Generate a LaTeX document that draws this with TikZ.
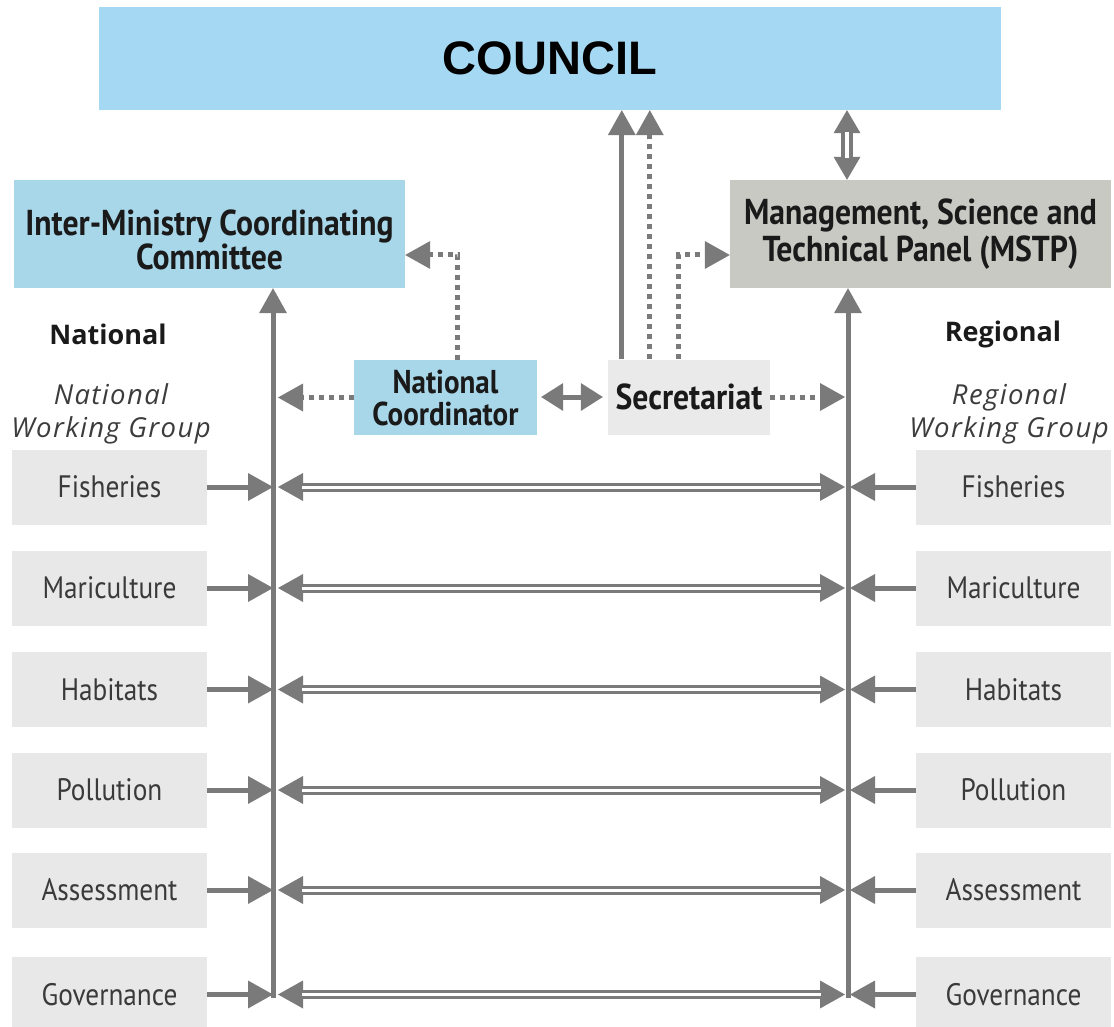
\documentclass[tikz,border=0pt]{standalone}
\usepackage{fontspec}
\setmainfont{PT Sans}[FakeStretch=0.88]
\newfontfamily\councilfont{Liberation Sans}
\newfontfamily\headfont{Open Sans}
\newfontfamily\wgfont{Open Sans}[LetterSpace=5]
\usetikzlibrary{arrows.meta}
\definecolor{councilblue}{HTML}{A5D8F2}
\definecolor{paleblue}{HTML}{A8D7EA}
\definecolor{panelgray}{HTML}{C9C9C4}
\definecolor{boxgray}{HTML}{E8E8E8}
\definecolor{secgray}{HTML}{EAEAEA}
\definecolor{agray}{HTML}{7A7A7A}
\definecolor{darktext}{HTML}{1A1A1A}
\definecolor{softtext}{HTML}{3A3A3A}
\tikzset{
  box/.style={rectangle, inner sep=0pt, anchor=center, align=center},
  wgbox/.style={box, fill=boxgray, minimum width=195pt, minimum height=75pt,
    text=softtext, font=\fontsize{31}{36}\selectfont},
  headbox/.style={box, text=darktext, font=\bfseries\fontsize{36}{37}\selectfont},
  colhead/.style={box, text=darktext, font=\headfont\bfseries\fontsize{27}{30}\selectfont},
  colsub/.style={box, text=darktext!85, font=\wgfont\itshape\fontsize{27.5}{33}\selectfont},
  gl/.style={draw=agray, line width=5pt},
  dotl/.style={draw=agray, line width=5pt, dash pattern=on 5pt off 5pt},
  tipend/.style={-{Triangle[length=25pt,width=28pt,line width=0pt]}},
  tipboth/.style={{Triangle[length=25pt,width=28pt,line width=0pt]}-{Triangle[length=25pt,width=28pt,line width=0pt]}},
  smallboth/.style={{Triangle[length=22pt,width=28pt,line width=0pt]}-{Triangle[length=22pt,width=28pt,line width=0pt]}},
  dbl/.style={draw=agray, line width=9pt, tipboth},
  dblinner/.style={draw=white, line width=3pt},
}
\begin{document}
\begin{tikzpicture}[x=1pt, y=-1pt]
\useasboundingbox (0,0) rectangle (1114,1027);
\clip (0,0) rectangle (1114,1027);

% top level and panels
\node[box, fill=councilblue, minimum width=902pt, minimum height=103pt,
  font=\councilfont\bfseries\fontsize{47}{50}\selectfont] (council) at (550,58.5) {COUNCIL};
\node[headbox, fill=paleblue, minimum width=391pt, minimum height=108pt,
  font=\bfseries\fontsize{36}{34}\selectfont] (imcc) at (209.5,234)
  {\rule{0pt}{38pt}Inter-Ministry Coordinating\\Committee};
\node[headbox, fill=panelgray, minimum width=381pt, minimum height=108pt] (mstp) at (920.5,234)
  {Management, Science and\\Technical Panel (MSTP)};
\node[headbox, fill=paleblue, minimum width=183pt, minimum height=75pt,
  font=\bfseries\fontsize{33}{32}\selectfont] (nc) at (445.5,397.5) {National\\Coordinator};
\node[headbox, fill=secgray, minimum width=162pt, minimum height=75pt] (sec) at (689,397) {Secretariat};

% column headings
\node[colhead] (nat) at (108,334) {National};
\node[colhead] (reg) at (1003,334) {Regional};
\node[colsub] (natwg) at (111,414) {National\\Working Group};
\node[colsub] (regwg) at (1009,414) {Regional\\Working Group};

% working group boxes
\foreach \i/\y/\t in {1/487/Fisheries, 2/588/Mariculture, 3/689.5/Habitats,
                      4/790/Pollution, 5/890/Assessment, 6/994.5/Governance} {
  \node[wgbox] (wl\i) at (109.5,\y) {\t};
  \node[wgbox] (wr\i) at (1013.5,\y) {\t};
}

% vertical spines
\coordinate (lb) at (273,998);
\coordinate (rb) at (848,998);
\draw[gl, tipend] (lb) -- (lb |- imcc.south);
\draw[gl, tipend] (rb) -- (rb |- mstp.south);

% row connectors
\foreach \i in {1,...,6} {
  \draw[gl, tipend] (wl\i.east) -- (lb |- wl\i.east);
  \draw[gl, tipend] (wr\i.west) -- ([xshift=2pt]rb |- wr\i.west);
  \draw[dbl] ([xshift=5pt]lb |- wl\i.east) -- ([xshift=-3pt]rb |- wl\i.east);
  \draw[dblinner] ([xshift=29pt]lb |- wl\i.east) -- ([xshift=-27pt]rb |- wl\i.east);
}

% secretariat links
\draw[gl, tipend] ([xshift=14pt]sec.north west) -- ([xshift=14pt]sec.north west |- council.south);
\draw[dotl, tipend] ([xshift=42pt]sec.north west) -- ([xshift=42pt]sec.north west |- council.south);
\draw[dotl, tipend] ([xshift=71pt]sec.north west) |- ([yshift=-21pt]mstp.west);
\draw[dotl, tipend] (sec.east) -- ([xshift=-3pt]rb |- sec.east);
\draw[gl, smallboth] ([xshift=4pt]nc.east |- sec.west) -- ([xshift=-5pt]sec.west);

% national coordinator links
\draw[dotl, tipend] ([xshift=104pt]nc.north west) |- ([yshift=-21pt]imcc.east);
\draw[dotl, tipend] (nc.west) -- ([xshift=5pt]lb |- nc.west);

% council and panel exchange
\coordinate (mx) at (847,0);
\draw[draw=agray, line width=12pt, {Triangle[length=23pt,width=27pt,line width=0pt]}-{Triangle[length=23pt,width=27pt,line width=0pt]}]
  (mx |- council.south) -- (mx |- mstp.north);
\draw[draw=white, line width=4pt] ([yshift=-22pt]mx |- council.south) -- ([yshift=22pt]mx |- mstp.north);
\end{tikzpicture}
\end{document}
